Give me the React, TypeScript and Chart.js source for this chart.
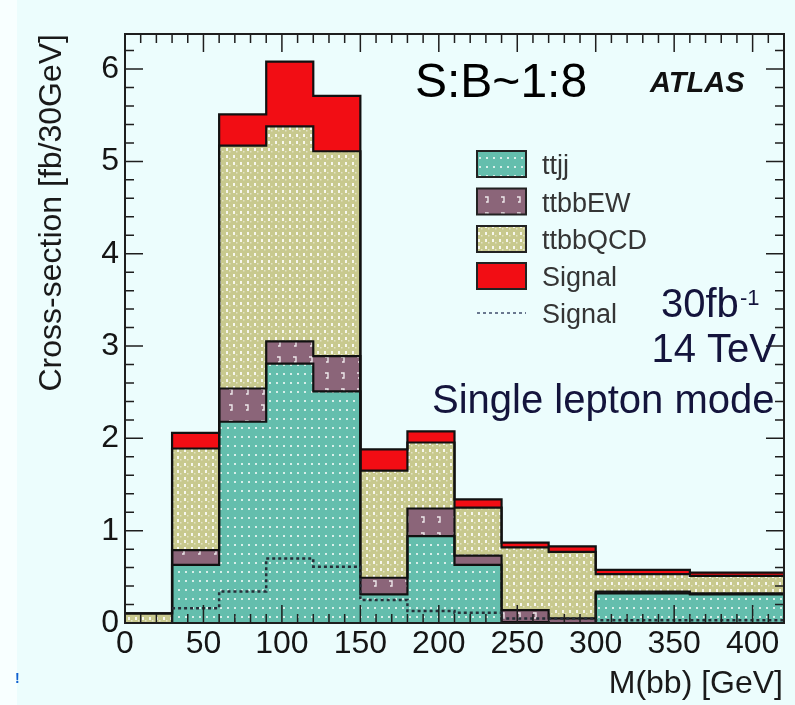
import React, { useEffect, useRef } from 'react';
import { Chart, registerables } from 'chart.js';

Chart.register(...registerables);

// ---- data ----
const binEdges = [0, 30, 60, 90, 120, 150, 180, 210, 240, 270, 300, 360, 420];
const ttjj = [0.0, 0.63, 2.18, 2.81, 2.51, 0.31, 0.94, 0.63, 0.01, 0.0, 0.32, 0.31];
const ttbbEW = [0.0, 0.16, 0.36, 0.24, 0.38, 0.18, 0.3, 0.1, 0.13, 0.05, 0.02, 0.01];
const ttbbQCD = [0.105, 1.1, 2.63, 2.33, 2.22, 1.16, 0.715, 0.52, 0.68, 0.72, 0.19, 0.19];
const signalStacked = [0.0, 0.17, 0.34, 0.7, 0.6, 0.23, 0.12, 0.09, 0.05, 0.06, 0.045, 0.035];
const signalAlone = [0.0, 0.16, 0.34, 0.7, 0.61, 0.25, 0.13, 0.11, 0.05, 0.05, 0.03, 0.03];
const xTickValues = [0, 50, 100, 150, 200, 250, 300, 350, 400];
const yTickValues = [0, 1, 2, 3, 4, 5, 6];
const legendLabels = ['ttjj', 'ttbbEW', 'ttbbQCD', 'Signal', 'Signal'];

const FONT = "'Liberation Sans', Arial, Helvetica, sans-serif";
const BG = '#ecfdfd';
const TEAL = '#64bead';
const MAUVE = '#8b6579';
const KHAKI = '#c8c98e';
const RED = '#f20d14';

function makePattern(base: string, w: number, h: number, draw: (c: CanvasRenderingContext2D) => void) {
  const cv = document.createElement('canvas');
  cv.width = w;
  cv.height = h;
  const c = cv.getContext('2d') as CanvasRenderingContext2D;
  c.fillStyle = base;
  c.fillRect(0, 0, w, h);
  draw(c);
  return c.createPattern(cv, 'repeat') as CanvasPattern;
}

function stepPoints(vals: number[], start = 0) {
  const pts: { x: number; y: number }[] = [];
  for (let i = start; i < vals.length; i++) pts.push({ x: binEdges[i], y: vals[i] });
  pts.push({ x: binEdges[vals.length], y: vals[vals.length - 1] });
  return pts;
}

export default function App() {
  const ref = useRef<HTMLCanvasElement | null>(null);

  useEffect(() => {
    const canvas = ref.current;
    if (!canvas) return;

    const tealPat = makePattern(TEAL, 7, 9, (c) => {
      c.fillStyle = 'rgba(255,255,255,0.75)';
      c.fillRect(3, 4, 2, 2);
    });
    const mauvePat = makePattern(MAUVE, 16, 16, (c) => {
      c.strokeStyle = 'rgba(255,255,255,0.85)';
      c.lineWidth = 1.4;
      c.beginPath();
      c.moveTo(5, 5);
      c.lineTo(8, 5);
      c.lineTo(8, 10);
      c.lineTo(6, 10);
      c.stroke();
    });
    const khakiPat = makePattern(KHAKI, 7, 7, (c) => {
      c.fillStyle = 'rgba(255,255,255,0.85)';
      c.fillRect(2, 1, 2, 3);
      c.fillStyle = 'rgba(255,255,255,0.5)';
      c.fillRect(5, 4, 1.5, 1.5);
    });

    const fills: (string | CanvasPattern)[] = [tealPat, mauvePat, khakiPat, RED];

    const decor = {
      id: 'decor',
      afterDatasetsDraw(chart: any) {
        const { ctx, chartArea } = chart;
        const xs = chart.scales.x;
        const ys = chart.scales.y;
        const { left, right, top, bottom } = chartArea;
        ctx.save();
        ctx.strokeStyle = '#1e1e1e';
        ctx.lineWidth = 1.5;
        for (let v = 0; v <= 420; v += 10) {
          const px = xs.getPixelForValue(v);
          const len = v % 50 === 0 ? 18 : 9;
          ctx.beginPath();
          ctx.moveTo(px, bottom);
          ctx.lineTo(px, bottom - len);
          ctx.moveTo(px, top);
          ctx.lineTo(px, top + len);
          ctx.stroke();
        }
        for (let k = 0; k * 0.2 <= ys.max + 1e-9; k++) {
          const v = k * 0.2;
          const py = ys.getPixelForValue(v);
          const len = k % 5 === 0 ? 18 : 9;
          ctx.beginPath();
          ctx.moveTo(left, py);
          ctx.lineTo(left + len, py);
          ctx.moveTo(right, py);
          ctx.lineTo(right - len, py);
          ctx.stroke();
        }
        ctx.lineWidth = 2;
        ctx.strokeRect(left, top, right - left, bottom - top);
        ctx.restore();
      },
      afterDraw(chart: any) {
        const { ctx } = chart;
        ctx.save();
        const boxX = 477;
        const boxW = 49;
        const boxH = 26;
        const centers = [164, 201.5, 239, 276, 313];
        ctx.font = `27px ${FONT}`;
        ctx.textAlign = 'left';
        ctx.textBaseline = 'alphabetic';
        centers.forEach((cy, i) => {
          if (i < 4) {
            ctx.fillStyle = fills[i];
            ctx.fillRect(boxX, cy - boxH / 2, boxW, boxH);
            ctx.strokeStyle = '#222';
            ctx.lineWidth = 2;
            ctx.strokeRect(boxX, cy - boxH / 2, boxW, boxH);
          } else {
            ctx.strokeStyle = '#6a7890';
            ctx.lineWidth = 2;
            ctx.setLineDash([3, 3]);
            ctx.beginPath();
            ctx.moveTo(boxX, cy);
            ctx.lineTo(boxX + boxW, cy);
            ctx.stroke();
            ctx.setLineDash([]);
          }
          ctx.fillStyle = '#353535';
          ctx.fillText(legendLabels[i], 542, cy + 10);
        });

        ctx.fillStyle = '#000';
        ctx.font = `48px ${FONT}`;
        ctx.fillText('S:B~1:8', 415, 97);
        ctx.font = `italic bold 29px ${FONT}`;
        ctx.fillStyle = '#111';
        ctx.fillText('ATLAS', 650, 92);

        ctx.fillStyle = '#14143c';
        ctx.font = `40px ${FONT}`;
        ctx.fillText('30fb', 661, 317);
        ctx.font = `22px ${FONT}`;
        ctx.fillText('-1', 740, 305);
        ctx.font = `40px ${FONT}`;
        ctx.textAlign = 'right';
        ctx.fillText('14 TeV', 776, 362);
        ctx.textAlign = 'left';
        ctx.fillText('Single lepton mode', 432, 413);

        ctx.fillStyle = '#1a1a1a';
        ctx.font = `32px ${FONT}`;
        ctx.textAlign = 'right';
        ctx.fillText('M(bb) [GeV]', 783, 693);
        ctx.save();
        ctx.translate(61, 34);
        ctx.rotate(-Math.PI / 2);
        ctx.font = `32px ${FONT}`;
        ctx.textAlign = 'right';
        ctx.fillText('Cross-section [fb/30GeV]', 0, 0);
        ctx.restore();

        ctx.fillStyle = '#1060d0';
        ctx.font = `bold 14px ${FONT}`;
        ctx.textAlign = 'left';
        ctx.fillText('!', 15, 683);
        ctx.restore();
      },
    };

    const stackNames = ['ttjj', 'ttbbEW', 'ttbbQCD', 'Signal'];
    const stackVals = [ttjj, ttbbEW, ttbbQCD, signalStacked];

    const datasets: any[] = stackVals.map((vals, i) => ({
      label: stackNames[i],
      data: stepPoints(vals),
      stepped: true,
      borderColor: '#111',
      borderWidth: 2.2,
      backgroundColor: fills[i],
      fill: i === 0 ? 'origin' : '-1',
      pointRadius: 0,
      stack: 'bkg',
      order: i + 1,
    }));
    datasets.push({
      label: 'Signal alone',
      data: stepPoints(signalAlone, 1),
      stepped: true,
      borderColor: '#262e38',
      borderWidth: 2.5,
      borderDash: [3, 3],
      fill: false,
      pointRadius: 0,
      stack: 'alone',
      order: 0,
    });

    const chart = new Chart(canvas, {
      type: 'line',
      data: { datasets },
      plugins: [decor],
      options: {
        animation: false,
        responsive: false,
        devicePixelRatio: 1,
        layout: { padding: { top: 34, right: 11, left: 0, bottom: 0 } },
        plugins: {
          legend: { display: false },
          tooltip: { enabled: false },
          filler: { drawTime: 'beforeDatasetsDraw' } as any,
        },
        scales: {
          x: {
            type: 'linear',
            min: 0,
            max: 420,
            grid: { display: false, drawTicks: false },
            border: { display: false },
            afterBuildTicks: (s: any) => {
              s.ticks = xTickValues.map((v) => ({ value: v }));
            },
            ticks: {
              font: { family: FONT, size: 32 },
              color: '#151515',
              padding: 2,
              maxRotation: 0,
              autoSkip: false,
              callback: (v: any) => String(v),
            },
            afterFit: (s: any) => {
              s.height = 82;
            },
          },
          y: {
            type: 'linear',
            stacked: true,
            min: 0,
            max: 6.38,
            grid: { display: false, drawTicks: false },
            border: { display: false },
            afterBuildTicks: (s: any) => {
              s.ticks = yTickValues.map((v) => ({ value: v }));
            },
            ticks: {
              font: { family: FONT, size: 32 },
              color: '#151515',
              padding: 6,
              autoSkip: false,
              callback: (v: any) => String(v),
            },
            afterFit: (s: any) => {
              s.width = 125;
            },
          },
        },
      } as any,
    });

    return () => {
      chart.destroy();
    };
  }, []);

  return (
    <div
      style={{
        position: 'fixed',
        left: 0,
        top: 0,
        width: 795,
        height: 705,
        background: BG,
        overflow: 'hidden',
      }}
    >
      <div style={{ position: 'absolute', left: 0, top: 0, width: 17, height: 705, background: '#f8ffff' }} />
      <canvas ref={ref} width={795} height={705} style={{ position: 'absolute', left: 0, top: 0, width: 795, height: 705 }} />
    </div>
  );
}
